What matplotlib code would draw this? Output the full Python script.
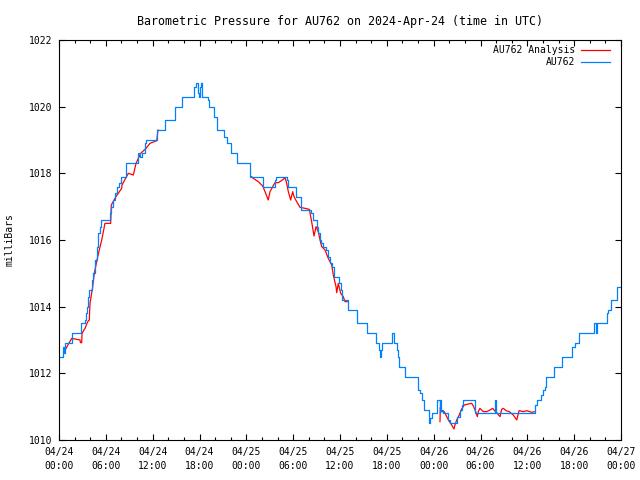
import numpy as np
import matplotlib
matplotlib.use('Agg')
import matplotlib.pyplot as plt
from matplotlib.ticker import MultipleLocator

# AU762 station pressure (hours since 2024-04-24 00:00 UTC, mb) - step changes
station_hours = [0.0, 0.55, 0.64, 0.73, 1.63, 2.78, 3.33, 3.46, 3.63, 3.75, 3.88, 4.19,
                 4.39, 4.61, 4.83, 4.96, 5.03, 5.19, 5.34, 6.53, 6.66, 6.92, 7.17, 7.39,
                 7.73, 7.94, 8.58, 10.16, 10.38, 10.59, 11.02, 11.15, 12.59, 13.58, 14.86,
                 15.72, 17.33, 17.51, 17.77, 17.97, 18.1, 18.23, 18.36, 19.09, 19.22, 19.86,
                 20.2, 21.18, 21.56, 22.0, 22.84, 24.47, 26.1, 27.63, 27.76, 29.21, 29.3,
                 30.32, 30.96, 32.32, 32.58, 33.01, 33.18, 33.44, 33.6, 33.82, 34.21, 34.46,
                 34.72, 34.97, 35.23, 35.87, 36.09, 36.22, 36.99, 38.22, 39.5, 40.57, 41.03,
                 41.16, 41.25, 41.42, 42.7, 42.92, 43.34, 43.43, 43.6, 44.29, 45.95, 46.25,
                 46.46, 46.76, 47.44, 47.57, 47.75, 48.39, 48.46, 48.75, 48.87, 48.97, 49.23,
                 49.87, 50.09, 50.99, 51.38, 51.59, 51.8, 53.29, 55.86, 55.94, 60.98, 61.2,
                 61.79, 62.0, 62.22, 62.39, 63.42, 64.48, 65.76, 66.1, 66.66, 68.54, 68.83,
                 68.97, 70.17, 70.34, 70.72, 71.45, 71.53, 72.0]
station_mb = [1012.5, 1012.8, 1012.6, 1012.9, 1013.2, 1013.5, 1013.6, 1013.8, 1014.0, 1014.3,
              1014.5, 1014.8, 1015.0, 1015.4, 1015.8, 1016.0, 1016.2, 1016.4, 1016.6, 1016.8,
              1017.0, 1017.2, 1017.4, 1017.6, 1017.7, 1017.9, 1018.3, 1018.6, 1018.5, 1018.6,
              1018.9, 1019.0, 1019.3, 1019.6, 1020.0, 1020.3, 1020.6, 1020.7, 1020.4, 1020.3,
              1020.6, 1020.7, 1020.3, 1020.2, 1020.0, 1019.7, 1019.3, 1019.1, 1018.9, 1018.6,
              1018.3, 1017.9, 1017.6, 1017.8, 1017.9, 1017.8, 1017.6, 1017.3, 1016.9, 1016.8,
              1016.6, 1016.4, 1016.2, 1016.0, 1015.9, 1015.8, 1015.7, 1015.5, 1015.3, 1015.2,
              1014.9, 1014.7, 1014.5, 1014.2, 1013.9, 1013.5, 1013.2, 1012.9, 1012.7, 1012.5,
              1012.7, 1012.9, 1013.2, 1012.9, 1012.7, 1012.5, 1012.2, 1011.9, 1011.5, 1011.4,
              1011.2, 1010.9, 1010.5, 1010.65, 1010.8, 1011.0, 1011.2, 1010.8, 1011.2, 1010.9,
              1010.8, 1010.6, 1010.5, 1010.7, 1010.9, 1011.05, 1011.2, 1010.8, 1011.2, 1010.8,
              1011.05, 1011.2, 1011.35, 1011.5, 1011.6, 1011.9, 1012.2, 1012.5, 1012.8, 1012.9,
              1013.2, 1013.5, 1013.2, 1013.5, 1013.8, 1013.9, 1014.2, 1014.5, 1014.6, 1014.6]

# AU762 Analysis - only the parts that show from under the station line (nan = hidden)
analysis_hours = [0.68, 1.02, 1.63, 2.69, 2.75, 2.91, 2.95, 3.33, 3.68, 3.88, 3.97, 4.32,
                  4.52, 4.96, 5.16, 5.47, 5.89, 6.62, 6.7, 7.3, 8.03, 8.07, 8.88, 9.52,
                  9.87, 10.47, 11.15, 11.66, 12.52, 12.68, np.nan,
                  24.68, 24.89, 25.53, 26.1, 26.39, 26.81, 27.03, 27.38, 27.67, 28.1, 28.74,
                  28.95, 29.17, 29.38, 29.68, 29.94, 30.11, 30.45, 30.88, 31.52, 32.07, 32.37,
                  32.67, 32.93, 33.22, 33.44, 33.66, 34.08, 34.5, 34.94, 35.14, 35.49, 35.58,
                  35.78, 36.09, 36.42, 36.64, 36.93, np.nan,
                  48.81, 48.85, 49.03, 49.36, 49.67, 49.96, 50.31, 50.6, 50.73, 50.95, 51.28,
                  51.59, 51.92, 52.44, 52.87, 53.07, 53.38, 53.59, 53.72, 53.93, 54.36, 54.79,
                  55.21, 55.56, 55.73, 56.15, 56.5, 56.71, 56.92, 57.27, 57.69, 58.2, 58.64,
                  58.94, 59.49, 59.92, 60.56, 60.98]
analysis_mb = [1012.65, 1012.8, 1013.05, 1013.0, 1012.92, 1012.92, 1013.2, 1013.35, 1013.55,
               1013.6, 1014.1, 1014.6, 1015.0, 1015.5, 1015.7, 1016.0, 1016.5, 1016.5,
               1017.05, 1017.3, 1017.55, 1017.65, 1018.0, 1017.95, 1018.3, 1018.6, 1018.75,
               1018.9, 1018.98, 1019.3, np.nan,
               1017.9, 1017.85, 1017.75, 1017.62, 1017.45, 1017.2, 1017.45, 1017.6, 1017.72,
               1017.72, 1017.82, 1017.88, 1017.7, 1017.45, 1017.2, 1017.45, 1017.3, 1017.15,
               1016.98, 1016.95, 1016.92, 1016.55, 1016.12, 1016.4, 1016.25, 1016.0, 1015.8,
               1015.7, 1015.45, 1015.25, 1014.95, 1014.6, 1014.42, 1014.7, 1014.4, 1014.3,
               1014.15, 1014.15, np.nan,
               1010.55, 1010.97, 1010.85, 1010.85, 1010.7, 1010.57, 1010.45, 1010.33, 1010.45,
               1010.6, 1010.75, 1010.93, 1011.05, 1011.08, 1011.1, 1011.03, 1010.85, 1010.7,
               1010.85, 1010.95, 1010.85, 1010.85, 1010.9, 1010.95, 1010.9, 1010.8, 1010.7,
               1010.92, 1010.95, 1010.88, 1010.85, 1010.75, 1010.6, 1010.88, 1010.85, 1010.88,
               1010.83, 1010.85]

tick_hours = list(range(0, 73, 6))
tick_labels = ['04/24\n00:00', '04/24\n06:00', '04/24\n12:00', '04/24\n18:00',
               '04/25\n00:00', '04/25\n06:00', '04/25\n12:00', '04/25\n18:00',
               '04/26\n00:00', '04/26\n06:00', '04/26\n12:00', '04/26\n18:00',
               '04/27\n00:00']

plt.rcParams['font.family'] = 'DejaVu Sans Mono'
plt.rcParams['font.size'] = 7

fig = plt.figure(figsize=(6.4, 4.8), dpi=100)
ax = fig.add_axes([59/640, 40/480, 562/640, 400/480])

red = '#ff0000'
blue = '#0080ff'
ax.plot(analysis_hours, analysis_mb, color=red, lw=0.9)
ax.plot(station_hours, station_mb, color=blue, lw=0.9, drawstyle='steps-post')

ax.set_xlim(0, 72)
ax.set_ylim(1010, 1022)
ax.set_xticks(tick_hours)
ax.set_xticklabels(tick_labels, linespacing=1.45)
ax.xaxis.set_minor_locator(MultipleLocator(2))
ax.set_yticks(range(1010, 1023, 2))
ax.tick_params(which='both', direction='in', top=True, right=True, width=0.8)
ax.tick_params(which='major', length=4)
ax.tick_params(which='minor', length=2.2)
ax.tick_params(axis='x', pad=5)
ax.tick_params(axis='y', pad=5)
for s in ax.spines.values():
    s.set_linewidth(0.8)

ax.set_title('Barometric Pressure for AU762 on 2024-Apr-24 (time in UTC)', pad=11)
fig.text(10/640, 0.5, 'milliBars', rotation=90, ha='center', va='center')

# legend, gnuplot style: right-aligned labels with line samples after
for i, (lab, col) in enumerate([('AU762 Analysis', red), ('AU762', blue)]):
    yy = 1 - (50 + 12*i - 40) / 400
    ax.text(0.918, yy, lab, transform=ax.transAxes, ha='right', va='center')
    ax.plot([0.929, 0.980], [yy, yy], color=col, lw=0.9, transform=ax.transAxes)

fig.savefig('out.png', dpi=100)
